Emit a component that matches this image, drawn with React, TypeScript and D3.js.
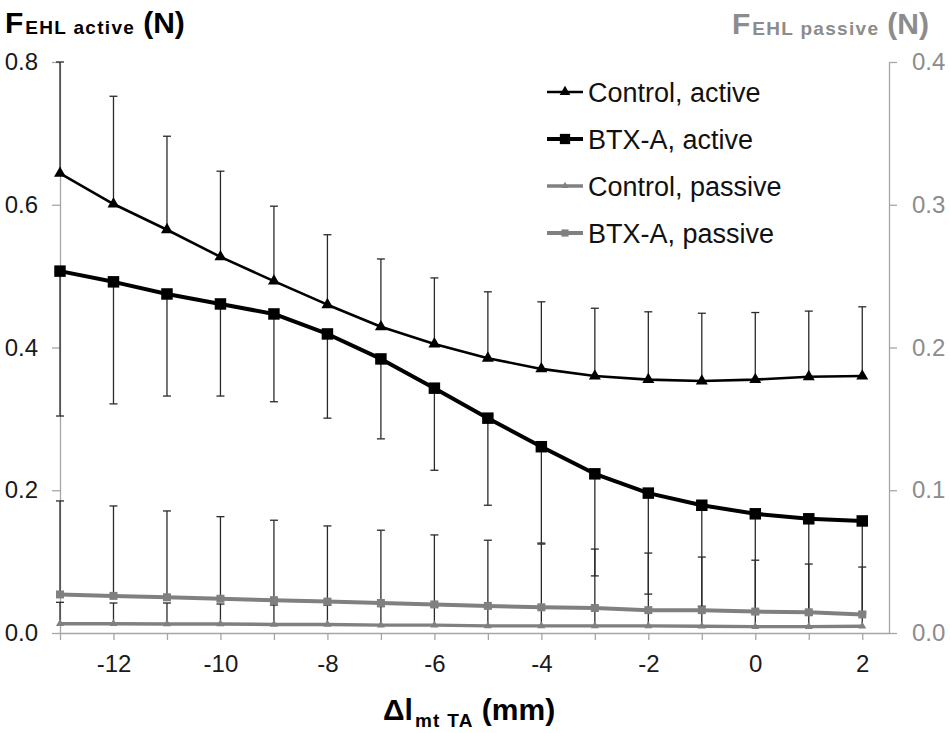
// @ts-nocheck
import { useEffect, useRef } from 'react'
import * as d3 from 'd3'

// change of TA muscle-tendon length (mm)
const lengthChange = [-13, -12, -11, -10, -9, -8, -7, -6, -5, -4, -3, -2, -1, 0, 1, 2]
const xTickMarks = [-13, -12, -11, -10, -9, -8, -7, -6, -5, -4, -3, -2, -1, 0, 1, 2]
const xTickLabels = [-12, -10, -8, -6, -4, -2, 0, 2]
const leftTicks = [0, 0.2, 0.4, 0.6, 0.8]
const rightTicks = [0, 0.1, 0.2, 0.3, 0.4]

// active forces (left axis, N)
const controlActive = [0.644, 0.601, 0.565, 0.527, 0.493, 0.46, 0.429, 0.405, 0.385, 0.37, 0.36, 0.355, 0.353, 0.355, 0.359, 0.36]
const controlActiveSD = [0.156, 0.151, 0.131, 0.12, 0.105, 0.098, 0.095, 0.0925, 0.093, 0.094, 0.095, 0.095, 0.095, 0.094, 0.092, 0.097]
const btxActive = [0.507, 0.492, 0.475, 0.461, 0.447, 0.419, 0.384, 0.343, 0.301, 0.261, 0.223, 0.196, 0.179, 0.167, 0.16, 0.157]
const btxActiveSD = [0.203, 0.171, 0.143, 0.129, 0.123, 0.118, 0.112, 0.115, 0.122, 0.135, 0.143, 0.1415, 0.1415, 0.14, 0.135, 0.13]

// passive forces (right axis, N)
const controlPassive = [0.0065, 0.0065, 0.0063, 0.0063, 0.006, 0.006, 0.0055, 0.0055, 0.005, 0.005, 0.005, 0.005, 0.0047, 0.0045, 0.0045, 0.0047]
const controlPassiveSD = [0.015, 0.0145, 0.0147, 0.014, 0.0136, 0.0135, 0.013, 0.0128, 0.0125, 0.012, 0.012, 0.0115, 0.011, 0.011, 0.0105, 0.01]
const btxPassive = [0.027, 0.026, 0.025, 0.024, 0.023, 0.022, 0.021, 0.02, 0.019, 0.018, 0.0175, 0.016, 0.016, 0.015, 0.0145, 0.013]
const btxPassiveSD = [0.0655, 0.063, 0.0605, 0.0575, 0.056, 0.053, 0.051, 0.0487, 0.046, 0.0443, 0.0413, 0.04, 0.0372, 0.036, 0.0338, 0.0332]

const FONT = "'Liberation Sans', Arial, sans-serif"
const GRAY = '#808080'
const AXIS_GRAY = '#a6a6a6'
const LABEL_GRAY = '#8c8c8c'

export default function App() {
  const svgRef = useRef<any>()
  const width = 950
  const height = 733
  const plot = { left: 60, right: 889, top: 62, bottom: 633 }

  useEffect(() => {
    const svg = d3.select(svgRef.current)
    svg.selectAll('*').remove()

    const x = d3.scaleLinear().domain([-13, 2.5]).range([plot.left, plot.right])
    const yLeft = d3.scaleLinear().domain([0, 0.8]).range([plot.bottom, plot.top])
    const yRight = d3.scaleLinear().domain([0, 0.4]).range([plot.bottom, plot.top])

    const styleAxis = (g, textColor) => {
      g.select('.domain').attr('stroke', AXIS_GRAY).attr('stroke-width', 1.3)
      g.selectAll('.tick line').attr('stroke', AXIS_GRAY).attr('stroke-width', 1.3)
      g.selectAll('.tick text')
        .attr('fill', textColor)
        .style('font-family', FONT)
        .style('font-size', '24px')
    }

    // axes
    svg
      .append('g')
      .attr('transform', `translate(${plot.left},0)`)
      .call(
        d3.axisLeft(yLeft).tickValues(leftTicks).tickFormat(d3.format('.1f')).tickSize(8).tickSizeOuter(0).tickPadding(14)
      )
      .call((g) => styleAxis(g, '#1a1a1a'))

    svg
      .append('g')
      .attr('transform', `translate(${plot.right},0)`)
      .call(
        d3.axisRight(yRight).tickValues(rightTicks).tickFormat(d3.format('.1f')).tickSize(8).tickSizeOuter(0).tickPadding(15)
      )
      .call((g) => styleAxis(g, LABEL_GRAY))

    svg
      .append('g')
      .attr('transform', `translate(0,${plot.bottom})`)
      .call(
        d3
          .axisBottom(x)
          .tickValues(xTickMarks)
          .tickFormat((d) => (xTickLabels.includes(d) ? String(d) : ''))
          .tickSize(7)
          .tickSizeOuter(0)
          .tickPadding(15)
      )
      .call((g) => styleAxis(g, '#1a1a1a'))

    const series = [
      { key: 'ca', values: controlActive, sd: controlActiveSD, dir: 1, y: yLeft, color: '#000', lw: 2.6, symbol: d3.symbolTriangle, size: 62 },
      { key: 'ba', values: btxActive, sd: btxActiveSD, dir: -1, y: yLeft, color: '#000', lw: 4, symbol: d3.symbolSquare, size: 132 },
      { key: 'cp', values: controlPassive, sd: controlPassiveSD, dir: 1, y: yRight, color: GRAY, lw: 3.4, symbol: d3.symbolTriangle, size: 28 },
      { key: 'bp', values: btxPassive, sd: btxPassiveSD, dir: 1, y: yRight, color: GRAY, lw: 4, symbol: d3.symbolSquare, size: 64 },
    ]

    const drawSeries = (s) => {
      const g = svg.append('g')
      // error bars (one-sided)
      const bars = g
        .append('g')
        .attr('stroke', '#2a2a2a')
        .attr('stroke-width', 1.3)
        .selectAll('g')
        .data(s.values.map((v, i) => ({ x: lengthChange[i], v, end: v + s.dir * s.sd[i] })))
        .enter()
        .append('g')
      bars
        .append('line')
        .attr('x1', (d) => x(d.x))
        .attr('x2', (d) => x(d.x))
        .attr('y1', (d) => s.y(d.v))
        .attr('y2', (d) => s.y(d.end))
      bars
        .append('line')
        .attr('x1', (d) => x(d.x) - 4)
        .attr('x2', (d) => x(d.x) + 4)
        .attr('y1', (d) => s.y(d.end))
        .attr('y2', (d) => s.y(d.end))

      const line = d3
        .line()
        .x((d, i) => x(lengthChange[i]))
        .y((d) => s.y(d))
      g.append('path')
        .attr('d', line(s.values))
        .attr('fill', 'none')
        .attr('stroke', s.color)
        .attr('stroke-width', s.lw)
        .attr('stroke-linejoin', 'round')

      g.selectAll('.marker')
        .data(s.values)
        .enter()
        .append('path')
        .attr('class', 'marker')
        .attr('d', d3.symbol(s.symbol, s.size))
        .attr('transform', (d, i) => `translate(${x(lengthChange[i])},${s.y(d)})`)
        .attr('fill', s.color)
    }
    series.forEach(drawSeries)

    // legend
    const legendItems = ['Control, active', 'BTX-A, active', 'Control, passive', 'BTX-A, passive']
    const legend = svg.append('g').attr('transform', 'translate(547,92)')
    legendItems.forEach((label, i) => {
      const s = series[i]
      const row = legend.append('g').attr('transform', `translate(0,${i * 47})`)
      row.append('line').attr('x1', 0).attr('x2', 36).attr('stroke', s.color).attr('stroke-width', s.lw)
      row
        .append('path')
        .attr('d', d3.symbol(s.symbol, s.size * 0.8))
        .attr('transform', 'translate(18,0)')
        .attr('fill', s.color)
      row
        .append('text')
        .attr('x', 41)
        .attr('y', 10)
        .style('font-family', FONT)
        .style('font-size', '27px')
        .attr('fill', '#111')
        .text(label)
    })

    // axis titles
    const title = (xPos, yPos, color, main, sub, tail, subDy) => {
      const t = svg
        .append('text')
        .attr('x', xPos)
        .attr('y', yPos)
        .attr('fill', color)
        .style('font-family', FONT)
        .style('font-weight', 'bold')
        .style('font-size', '30px')
      t.append('tspan').text(main)
      t.append('tspan').attr('dx', 2).attr('dy', subDy).style('font-size', '19px').style('letter-spacing', '1.3px').text(sub)
      t.append('tspan').attr('dx', 8).attr('dy', -subDy).text(tail)
    }
    title(5, 33, '#000', 'F', 'EHL active', '(N)', 1)
    title(732, 34, LABEL_GRAY, 'F', 'EHL passive', '(N)', 1)
    title(383, 720, '#000', 'Δl', 'mt TA', '(mm)', 7)
  }, [])

  return (
    <svg
      ref={svgRef}
      width={width}
      height={height}
      style={{ position: 'absolute', left: 0, top: 0, background: '#fff' }}
    ></svg>
  )
}
